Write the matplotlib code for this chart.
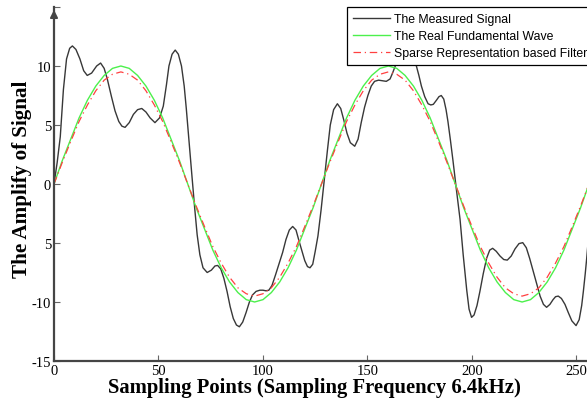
import matplotlib
matplotlib.use('Agg')
import matplotlib.pyplot as plt

# measured signal (sample index, amplitude)
meas_x = [0, 1.5, 3, 4.5, 6, 7.5, 8.8, 10.5, 12.4, 14.2, 15.9, 18, 20.4, 22.3, 24, 25.5, 27.5, 29.2,
          31, 32.5, 34, 36, 38, 40, 42, 44, 46, 48.3, 50.5, 52.3, 53.8, 55, 56.5, 58, 59.5, 61, 62.3,
          63.3, 64.6, 65.9, 67.3, 68.5, 69.8, 71.3, 73.3, 75.3, 77, 78.3, 79.8, 81.3, 82.8, 84.3, 85.8,
          87.3, 88.7, 90.3, 91.9, 93.5, 95, 96.7, 98.5, 100, 101.4, 102.8, 104.3, 106, 107.8, 109.4,
          111, 112.6, 114.2, 115.8, 117.2, 118.5, 120, 121.3, 122.5, 123.8, 125, 126.3, 127.8, 129.3,
          130.8, 132.2, 133.8, 135.6, 137.2, 138.7, 140.2, 141.8, 143.9, 145.5, 147, 148.6, 150.2,
          151.8, 153.4, 155.3, 157.2, 159, 160.8, 162, 163.3, 164.8, 166.5, 168.3, 170, 171.8, 173.4,
          174.6, 175.8, 177.4, 179, 180.3, 181.5, 183, 184.2, 185.3, 186.5, 187.6, 188.5, 189.7, 190.9,
          192.5, 194.3, 195.8, 197.5, 198.6, 199.8, 201, 202.4, 203.8, 205.4, 207, 208.5, 209.9, 211.6,
          213.4, 215.2, 216.9, 218.8, 220.6, 222.5, 224.3, 226, 227.6, 229.3, 231, 232.6, 234.2, 235.7,
          237.3, 238.8, 240, 241.3, 242.8, 244.5, 246.1, 247.8, 249.8, 251.3, 252.5, 253.3, 254.2,
          254.9, 256]
meas_y = [0, 1.8, 4.0, 8.0, 10.6, 11.5, 11.7, 11.4, 10.6, 9.6, 9.2, 9.4, 10.0, 10.25, 9.8, 8.9, 7.4, 6.2,
          5.3, 4.9, 4.8, 5.2, 5.9, 6.3, 6.4, 6.1, 5.6, 5.2, 5.6, 6.6, 8.4, 10.0, 11.0, 11.35, 11.0, 10.0, 8.3,
          6.4, 3.6, 0.9, -2.0, -4.3, -6.0, -7.1, -7.5, -7.3, -6.95, -6.9, -7.2, -8.0, -9.1, -10.4, -11.4,
          -11.95, -12.1, -11.7, -10.9, -10.0, -9.4, -9.1, -9.0, -9.0, -9.05, -9.0, -8.6, -7.7, -6.7, -5.8,
          -4.7, -3.9, -3.6, -3.9, -4.8, -5.6, -6.5, -7.0, -7.1, -6.8, -5.7, -4.4, -2.2, 0.3,
          2.8, 5.0, 6.3, 6.8, 6.4, 5.4, 4.3, 3.5, 3.2, 3.8, 5.2, 6.5, 7.5,
          8.3, 8.7, 8.8, 8.75, 8.7, 8.9, 9.4, 10.0, 10.6, 11.0, 11.1, 10.9, 10.5, 10.0,
          9.2, 8.3, 7.4, 6.8, 6.7, 6.75, 7.1, 7.4, 7.5, 7.2, 6.3, 5.3, 3.7, 2.0,
          -0.4, -3.0, -6.0, -9.0, -10.6, -11.3, -11.1, -10.3, -9.1, -7.6, -6.3, -5.6, -5.45, -5.7,
          -6.1, -6.4, -6.45, -6.1, -5.5, -5.05, -4.97, -5.4, -6.3, -7.4, -8.5, -9.5, -10.2, -10.45,
          -10.2, -9.8, -9.55, -9.5, -9.7, -10.2, -10.9, -11.6, -12.0, -11.5, -10.3, -9.1, -7.6,
          -6.3, -4.0]

# real fundamental and filter output, read every 4 samples
wave_x = list(range(0, 257, 4))
real_y = [0, 2.0, 3.8, 5.6, 7.1, 8.3, 9.2, 9.8, 10.0, 9.8, 9.2, 8.3, 7.1, 5.6, 3.8, 2.0,
          0, -2.0, -3.8, -5.6, -7.1, -8.3, -9.2, -9.8, -10.0, -9.8, -9.2, -8.3, -7.1, -5.6, -3.8, -2.0,
          0, 2.0, 3.8, 5.6, 7.1, 8.3, 9.2, 9.8, 10.0, 9.8, 9.2, 8.3, 7.1, 5.6, 3.8, 2.0,
          0, -2.0, -3.8, -5.6, -7.1, -8.3, -9.2, -9.8, -10.0, -9.8, -9.2, -8.3, -7.1, -5.6, -3.8, -2.0, 0]
filt_y = [0, 1.85, 3.6, 5.3, 6.7, 7.9, 8.8, 9.3, 9.5, 9.3, 8.8, 7.9, 6.7, 5.3, 3.6, 1.85,
          0, -1.85, -3.6, -5.3, -6.7, -7.9, -8.8, -9.3, -9.5, -9.3, -8.8, -7.9, -6.7, -5.3, -3.6, -1.85,
          0, 1.85, 3.6, 5.3, 6.7, 7.9, 8.8, 9.3, 9.5, 9.3, 8.8, 7.9, 6.7, 5.3, 3.6, 1.85,
          0, -1.85, -3.6, -5.3, -6.7, -7.9, -8.8, -9.3, -9.5, -9.3, -8.8, -7.9, -6.7, -5.3, -3.6, -1.85, 0]

x_ticks = [0, 50, 100, 150, 200, 250]
y_ticks = [-15, -10, -5, 0, 5, 10, 15]
y_tick_labels = ['-15', '-10', '5', '0', '5', '10', '']

fig = plt.figure(figsize=(5.87, 4.02), dpi=100)
ax = fig.add_axes([54 / 587, 40 / 402, 535 / 587, 354 / 402])

ax.plot(meas_x, meas_y, color='#383838', lw=1.0, label='The Measured Signal')
ax.plot(wave_x, real_y, color='#4cf04c', lw=1.0, label='The Real Fundamental Wave')
ax.plot(wave_x, filt_y, color='#ff4040', lw=0.9, linestyle=(0, (6, 3, 1, 3)),
        label='Sparse Representation based Filter')

ax.set_xlim(0, 256)
ax.set_ylim(-15, 15)
ax.set_xticks(x_ticks)
ax.set_xticklabels([str(t) for t in x_ticks])
ax.set_yticks(y_ticks)
ax.set_yticklabels(y_tick_labels)

for s in ['top', 'right']:
    ax.spines[s].set_visible(False)
for s in ['left', 'bottom']:
    ax.spines[s].set_color('#454545')
    ax.spines[s].set_linewidth(1.6)

ax.tick_params(direction='in', length=4, width=0.8, color='#666666', labelsize=10.5, pad=2)
for lab in ax.get_xticklabels() + ax.get_yticklabels():
    lab.set_family('Liberation Serif')

# arrow on top of the y axis
ax.annotate('', xy=(0, 1.0), xytext=(0, 0.965), xycoords='axes fraction',
            arrowprops=dict(arrowstyle='-|>', color='#454545', lw=1.4, mutation_scale=11))

leg = ax.legend(loc='upper left', bbox_to_anchor=(347 / 587, 1 - 8 / 402),
                bbox_transform=fig.transFigure, prop={'family': 'Liberation Sans', 'size': 8.8},
                frameon=True, fancybox=False, framealpha=1, edgecolor='black',
                handlelength=3.0, borderpad=0.5, labelspacing=0.42, handletextpad=0.33,
                borderaxespad=0)
leg.get_frame().set_linewidth(0.9)

fig.text(314 / 587, 14 / 402, 'Sampling Points (Sampling Frequency 6.4kHz)', ha='center', va='center',
         family='Liberation Serif', weight='bold', fontsize=14.9)
fig.text(22 / 587, 0.5 + 22 / 402, 'The Amplify of Signal', ha='center', va='center', rotation=90,
         family='Liberation Serif', weight='bold', fontsize=15.2)

fig.savefig('out.png', dpi=100)
